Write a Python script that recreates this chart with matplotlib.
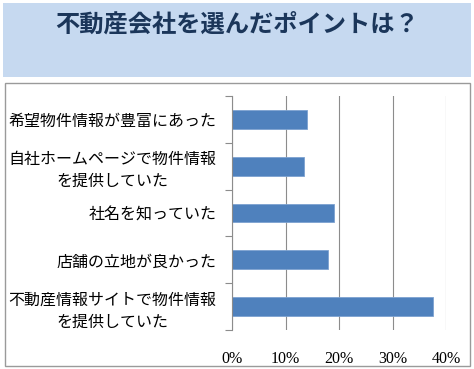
import matplotlib
matplotlib.use("Agg")
import matplotlib.pyplot as plt
from matplotlib.patches import Rectangle
import numpy as np

title = "不動産会社を選んだポイントは？"
categories = [
    "希望物件情報が豊富にあった",
    "自社ホームページで物件情報\nを提供していた",
    "社名を知っていた",
    "店舗の立地が良かった",
    "不動産情報サイトで物件情報\nを提供していた",
]
values = [14.0, 13.5, 19.0, 18.0, 37.5]
xticks = [0, 10, 20, 30, 40]
xtick_labels = ["0%", "10%", "20%", "30%", "40%"]

W, H = 474, 369
fig = plt.figure(figsize=(W / 100, H / 100), dpi=100)
fig.patch.set_facecolor("white")

# title banner
fig.patches.append(Rectangle((3 / W, 1 - 77 / H), 468 / W, 74 / H,
                             transform=fig.transFigure, facecolor="#c6d9f0",
                             edgecolor="none", zorder=-2))
fig.text(237 / W, 1 - 25 / H, title, ha="center", va="center",
         fontsize=17.5, fontweight="bold", color="#1b365a",
         family=["Noto Sans CJK JP", "DejaVu Sans"])

# chart box
fig.patches.append(Rectangle((5 / W, 1 - 366 / H), 465 / W, 283 / H,
                             transform=fig.transFigure, facecolor="white",
                             edgecolor="#9a9a9a", linewidth=1.0, zorder=-1))

left, right, top, bottom = 232, 446, 96, 330
ax = fig.add_axes([left / W, 1 - bottom / H, (right - left) / W, (bottom - top) / H])
ax.set_zorder(2)
ax.set_facecolor("none")

y = np.arange(len(categories))
ax.barh(y, values, height=0.4, color="#4f81bd", edgecolor="#7da2d0",
        linewidth=0.6, zorder=3)
ax.set_ylim(len(categories) - 0.5, -0.5)
ax.set_xlim(0, 40)

ax.set_xticks(xticks)
ax.set_xticklabels(xtick_labels, family=["Liberation Serif"], fontsize=11.5)
ax.tick_params(axis="x", length=0, pad=15)
ax.grid(axis="x", color="#8c8c8c", linewidth=0.8, zorder=0)

ax.set_yticks(y)
ax.set_yticklabels(categories, family=["Noto Sans CJK JP", "DejaVu Sans"],
                   fontsize=11.5, multialignment="center", linespacing=1.38)
ax.tick_params(axis="y", which="major", length=0, pad=11)
ax.set_yticks(np.arange(len(categories) + 1) - 0.5, minor=True)
ax.tick_params(axis="y", which="minor", length=5, color="#8c8c8c", width=0.8)

for s in ["top", "right", "bottom"]:
    ax.spines[s].set_visible(False)
ax.spines["left"].set_color("#8c8c8c")
ax.spines["left"].set_linewidth(0.8)
ax.spines["left"].set_zorder(4)

fig.savefig("out.png", dpi=100)
